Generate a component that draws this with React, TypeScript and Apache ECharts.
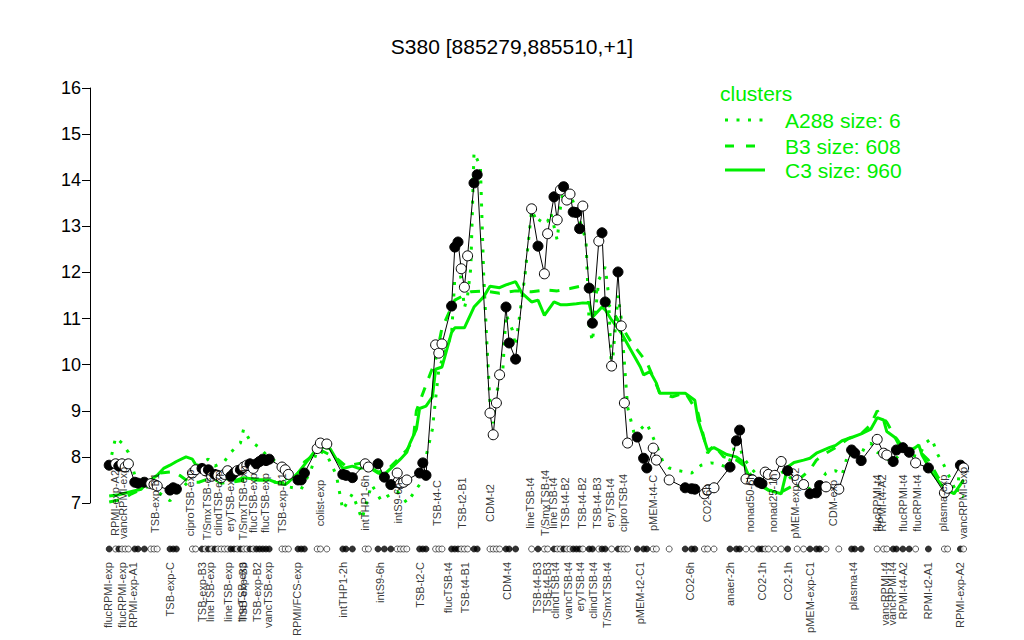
import React, { useEffect, useRef } from "react";
import * as echarts from "echarts";

const TITLE = "S380 [885279,885510,+1]";
const LEGEND_TITLE = "clusters";
const legendNames = ["A288 size: 6", "B3 size: 608", "C3 size: 960"];

// sample positions (index along the sample order), expression values, filled marker flag
const sampleX = [
  6, 8, 9, 10, 11, 12, 14, 15, 17, 19,
  20, 21, 25, 26, 27, 32, 33, 35, 36, 37,
  38, 39, 40, 41, 42, 43, 44, 45, 46, 47,
  48, 49, 50, 51, 52, 53, 54, 55, 56, 60,
  61, 62, 65, 66, 67, 71, 72, 74, 79, 80,
  82, 86, 87, 90, 92, 94, 96, 97, 98, 99,
  103, 104, 105, 108, 109, 110, 113, 114, 115, 116,
  117, 118, 120, 121, 125, 126, 127, 128, 130, 131,
  133, 138, 140, 142, 143, 145, 146, 147, 148, 149,
  150, 151, 152, 153, 154, 156, 157, 159, 160, 161,
  163, 165, 166, 167, 168, 171, 173, 174, 176, 177,
  181, 186, 188, 189, 192, 193, 195, 200, 202, 203,
  205, 207, 209, 210, 211, 212, 214, 216, 218, 221,
  223, 225, 227, 228, 230, 234, 238, 239, 241, 246,
  248, 249, 251, 252, 254, 256, 258, 262, 267, 268,
  272, 273,
];
const sampleY = [
  7.82, 7.85, 7.8, 7.85, 7.78, 7.85, 7.45, 7.43, 7.45, 7.42,
  7.4, 7.37, 7.28, 7.33, 7.3, 7.65, 7.72, 7.75, 7.7, 7.72,
  7.58, 7.62, 7.6, 7.55, 7.62, 7.7, 7.58, 7.65, 7.7, 7.72,
  7.78, 7.82, 7.85, 7.75, 7.85, 7.9, 7.95, 7.92, 7.95, 7.78,
  7.72, 7.62, 7.5, 7.5, 7.65, 8.18, 8.3, 8.28, 7.62, 7.6,
  7.55, 7.85, 7.78, 7.85, 7.56, 7.4, 7.65, 7.42, 7.45, 7.5,
  7.65, 7.87, 7.6, 10.43, 10.25, 10.45, 11.27, 12.55, 12.66, 12.08,
  11.68, 12.36, 13.94, 14.12, 8.95, 8.48, 9.17, 9.78, 11.25, 10.47,
  10.12, 13.38, 12.57, 11.97, 12.84, 13.64, 13.14, 13.79, 13.86, 13.57,
  13.7, 13.31, 13.3, 12.95, 13.44, 11.66, 10.9, 12.68, 12.86, 11.36,
  9.97, 12.01, 10.84, 9.17, 8.3, 8.43, 7.97, 7.76, 8.19, 7.93,
  7.5, 7.33, 7.31, 7.3, 7.2, 7.28, 7.33, 7.78, 8.35, 8.58,
  7.52, 7.5, 7.45, 7.42, 7.67, 7.62, 7.6, 7.9, 7.7, 7.5,
  7.4, 7.2, 7.22, 7.38, 7.35, 7.3, 8.15, 8.08, 7.92, 8.38,
  8.08, 8.04, 7.9, 8.15, 8.2, 8.1, 7.87, 7.76, 7.22, 7.32,
  7.82, 7.76,
];
const sampleFilled = [
  1, 0, 1, 0, 0, 0, 1, 1, 1, 0,
  0, 0, 1, 1, 1, 0, 0, 1, 0, 1,
  0, 1, 0, 0, 0, 0, 1, 1, 0, 1,
  0, 0, 1, 0, 1, 1, 1, 1, 1, 0,
  0, 0, 1, 1, 1, 0, 0, 0, 1, 1,
  1, 0, 0, 1, 1, 1, 0, 0, 0, 0,
  1, 1, 1, 0, 0, 0, 1, 1, 1, 0,
  0, 0, 1, 1, 0, 0, 0, 0, 1, 1,
  1, 0, 1, 0, 0, 1, 0, 0, 1, 0,
  0, 1, 1, 1, 0, 1, 1, 0, 1, 1,
  0, 1, 0, 0, 0, 1, 1, 1, 0, 0,
  0, 1, 1, 1, 0, 0, 0, 1, 1, 1,
  0, 0, 1, 1, 0, 0, 0, 0, 1, 0,
  0, 1, 1, 1, 0, 0, 1, 1, 1, 0,
  0, 0, 1, 1, 1, 1, 0, 1, 0, 0,
  1, 0,
];

// cluster mean profiles
const a288X = [
  6, 8, 10, 12, 14, 17, 19, 21, 25, 27, 32, 34, 37, 39, 42, 44, 47, 48, 50, 53,
  55, 58, 61, 62, 66, 69, 71, 74, 77, 79, 82, 85, 88, 91, 93, 96, 98, 99, 103, 105,
  107, 109, 111, 113, 114, 116, 117, 118, 119, 120, 122, 123, 124, 125, 126, 127, 129, 130, 132, 133,
  136, 138, 140, 141, 143, 144, 146, 147, 148, 150, 152, 155, 156, 157, 159, 161, 162, 163, 165, 166,
  168, 170, 172, 174, 177, 179, 181, 184, 188, 191, 194, 196, 199, 201, 202, 204, 207, 210, 214, 217,
  220, 222, 224, 227, 230, 233, 235, 237, 240, 242, 244, 246, 248, 250, 252, 254, 256, 259, 261, 263,
  265, 267, 269, 271, 272, 273,
];
const a288Y = [
  7.8, 8.42, 8.3, 8.1, 7.6, 7.5, 7.4, 7.25, 7.05, 7.2, 7.55, 7.85, 7.95, 7.8, 7.9, 8.1, 8.3, 8.6, 8.35, 8.2,
  8.05, 7.9, 7.65, 7.35, 7.3, 7.7, 8.15, 8.05, 7.6, 6.85, 7.2, 6.65, 7.4, 7.05, 7.15, 7.25, 7.1, 7.0, 7.4, 8.0,
  8.6, 9.9, 10.3, 10.65, 11.88, 11.9, 11.23, 11.5, 12.1, 14.6, 14.3, 12.0, 10.5, 9.17, 8.73, 9.38, 9.88, 11.1, 10.75, 10.4,
  11.98, 13.35, 13.07, 13.18, 13.1, 13.3, 12.7, 13.4, 13.8, 13.7, 13.36, 12.7, 10.86, 10.5, 11.84, 12.12, 11.55, 9.82, 11.5, 11.0,
  9.08, 8.52, 8.6, 8.73, 8.26, 7.9, 7.76, 7.7, 7.65, 7.82, 7.87, 7.85, 7.78, 8.1, 8.5, 8.0, 7.72, 7.5, 7.55, 7.7,
  7.45, 7.35, 7.3, 7.35, 7.65, 7.7, 7.6, 8.1, 7.9, 8.2, 8.3, 8.1, 8.05, 7.9, 7.97, 8.15, 8.05, 8.0, 8.3, 8.4,
  8.04, 7.8, 7.5, 7.2, 7.95, 7.8,
];
const b3X = [
  6, 10, 13, 18, 22, 26, 28, 31, 34, 38, 41, 44, 49, 54, 58, 62, 65, 67, 72, 77,
  80, 85, 90, 93, 96, 99, 101, 102, 105, 108, 110, 114, 119, 123, 128, 133, 138, 142, 146, 150,
  153, 157, 160, 163, 169, 174, 178, 182, 186, 190, 193, 195, 198, 202, 205, 208, 212, 216, 219, 222,
  225, 227, 230, 233, 237, 241, 244, 246, 249, 251, 254, 258, 262, 265, 269, 273,
];
const b3Y = [
  7.02, 7.08, 7.2, 7.35, 7.65, 7.68, 7.6, 7.45, 7.45, 7.55, 7.43, 7.45, 7.5, 7.5, 7.45, 7.43, 7.65, 7.89, 8.15, 7.97,
  7.8, 7.87, 7.67, 7.72, 7.93, 8.15, 8.37, 9.0, 9.56, 10.1, 10.8, 11.4, 11.58, 11.6, 11.55, 11.6, 11.58, 11.62, 11.6, 11.65,
  11.7, 11.6, 11.55, 11.2, 10.5, 10.05, 9.4, 9.3, 9.4, 8.95, 8.08, 8.26, 8.0, 7.93, 7.78, 7.43, 7.28, 7.24, 7.35, 7.54,
  7.72, 7.93, 8.08, 8.2, 8.4, 8.5, 8.7, 9.0, 8.75, 8.5, 8.1, 8.2, 7.93, 7.56, 7.24, 7.13,
];
const c3X = [
  6, 9, 13, 16, 18, 21, 23, 25, 27, 30, 32, 34, 36, 38, 41, 43, 46, 48, 51, 53,
  56, 58, 61, 62, 65, 68, 70, 72, 75, 77, 79, 82, 84, 87, 90, 92, 94, 97, 99, 100,
  102, 103, 105, 107, 108, 110, 113, 114, 117, 120, 123, 125, 128, 130, 133, 135, 138, 140, 142, 145,
  147, 149, 152, 154, 156, 157, 160, 161, 163, 166, 169, 172, 173, 175, 177, 178, 183, 186, 189, 190,
  193, 195, 199, 202, 204, 206, 209, 212, 216, 218, 220, 223, 225, 227, 231, 233, 235, 238, 241, 244,
  246, 248, 249, 252, 254, 256, 259, 260, 263, 266, 268, 270, 273,
];
const c3Y = [
  7.15, 7.18, 7.25, 7.3, 7.45, 7.6, 7.75, 7.82, 7.9, 8.0, 7.95, 7.72, 7.7, 7.6, 7.55, 7.52, 7.5, 7.55, 7.52, 7.5,
  7.5, 7.45, 7.4, 7.45, 7.65, 7.92, 8.1, 8.22, 8.18, 7.95, 7.75, 7.8, 7.75, 7.78, 7.65, 7.62, 7.75, 7.95, 8.1, 8.3,
  8.6, 9.05, 9.1, 9.3, 9.9, 9.95, 10.7, 10.8, 10.8, 11.25, 11.47, 11.7, 11.67, 11.73, 11.8, 11.55, 11.36, 11.4, 11.07, 11.36,
  11.3, 11.3, 11.32, 11.34, 11.33, 11.03, 11.25, 11.19, 10.97, 10.69, 10.32, 9.95, 9.78, 9.85, 9.6, 9.38, 9.38, 9.38, 9.23, 8.8,
  8.15, 8.2, 8.05, 8.0, 7.9, 7.57, 7.45, 7.28, 7.2, 7.78, 7.88, 7.93, 7.97, 8.08, 8.2, 8.25, 8.35, 8.42, 8.5, 8.6,
  8.85, 8.8, 8.55, 8.4, 8.2, 8.1, 8.26, 8.04, 7.67, 7.4, 7.28, 7.2, 7.5,
];

// sample names written inside the plot (centred on y = 7)
const plotLabelX = [
  7.8, 10.3, 20.3, 31.3, 36.6, 40, 43.8, 47.8, 50.9, 54.7,
  60, 71.9, 85.9, 96.3, 108.4, 116.3, 125, 137.5, 142.2, 144.7,
  148.4, 153.8, 158.4, 162.5, 166.6, 175.9, 192.8, 206.3, 213.4, 220.3,
  232.2, 245.9, 247.5, 254, 258.4, 266.6, 272.8,
];
const plotLabelText = [
  "RPMI-exp-A2", "vancRPMI-exp", "TSB-exp-B1", "ciproTSB-exp", "T/SmxTSB-exp", "clindTSB-exp", "eryTSB-exp", "T/SmxTSB-exp", "flucTSB-exp", "flucTSB-exp",
  "TSB-exp-B1", "colist-exp", "intTHP1-6h", "intS9-6h", "TSB-t4-C", "TSB-t2-B1", "CDM-t2", "lineTSB-t4", "T/SmxTSB-t4", "lineTSB-t4",
  "TSB-t4-B2", "TSB-t4-B2", "TSB-t4-B3", "eryTSB-t4", "ciproTSB-t4", "pMEM-t4-C", "CO2-6h", "nonad50-6h", "nonad25-1h", "pMEM-exp-C2",
  "CDM-exp", "flucRPMI-t4", "RPMI-t4-A2", "flucRPMI-t4", "flucRPMI-t4", "plasma-exp", "vancRPMI-exp",
];
// sample names written under the marker strip
const axisLabelX = [
  5.6, 10, 13.4, 25, 35, 37.5, 43.1, 47.5, 47.8, 52.2,
  55.6, 64.7, 79, 90.6, 103.1, 111.9, 117.2, 130.3, 139.7, 142.8,
  145.3, 149.4, 153.1, 157.2, 161.6, 171.9, 187.5, 200, 210, 218.1,
  225, 238.4, 248.4, 250.6, 254, 261.9, 271.9,
];
const axisLabelText = [
  "flucRPMI-exp", "flucRPMI-exp", "RPMI-exp-A1", "TSB-exp-C", "TSB-exp-B3", "lineTSB-exp", "lineTSB-exp", "lineTSB-exp", "TSB-exp-B3", "TSB-exp-B2",
  "vancTSB-exp", "RPMI/FCS-exp", "intTHP1-2h", "intS9-6h", "TSB-t2-C", "flucTSB-t4", "TSB-t4-B1", "CDM-t4", "TSB-t4-B3", "TSB-t4-B3",
  "clindTSB-t4", "vancTSB-t4", "eryTSB-t4", "clindTSB-t4", "T/SmxTSB-t4", "pMEM-t2-C1", "CO2-6h", "anaer-2h", "CO2-1h", "CO2-1h",
  "pMEM-exp-C1", "plasma-t4", "vancRPMI-t4", "vancRPMI-t4", "RPMI-t4-A2", "RPMI-t2-A1", "RPMI-exp-A2",
];

const GREEN = "#00ee00";
const FONT = "'Liberation Sans', Arial, Helvetica, sans-serif";

function zip(xs: number[], ys: number[]) {
  return xs.map((x, i) => [x, ys[i]]);
}

export default function App() {
  const ref = useRef<HTMLDivElement>(null);
  useEffect(() => {
    document.body.style.margin = "0";
    const chart = echarts.init(ref.current!, undefined, { renderer: "svg" });

    const markers = sampleX.map((x, i) => ({
      value: [x, sampleY[i]],
      itemStyle: { color: sampleFilled[i] ? "#000" : "#fff", borderColor: "#000", borderWidth: 1 },
    }));
    const strip = sampleX.map((x, i) => ({
      value: [x, 9],
      itemStyle: { color: sampleFilled[i] ? "#000" : "#fff", borderColor: "#000", borderWidth: 0.8 },
    }));

    const legendRowsY = [120, 146, 170];
    const legendDash: (number[] | null)[] = [[3, 8.5], [9, 12], null];

    const graphic: any[] = [
      {
        type: "text",
        x: 720,
        y: 93,
        style: { text: LEGEND_TITLE, fill: GREEN, font: `21px ${FONT}`, textVerticalAlign: "middle" },
      },
    ];
    legendNames.forEach((name, i) => {
      graphic.push({
        type: "line",
        shape: { x1: 725, y1: legendRowsY[i], x2: 765, y2: legendRowsY[i] },
        style: { stroke: GREEN, lineWidth: 3, lineDash: legendDash[i] || undefined },
      });
      graphic.push({
        type: "text",
        x: 785,
        y: legendRowsY[i],
        style: { text: name, fill: GREEN, font: `21px ${FONT}`, textVerticalAlign: "middle" },
      });
    });

    const option: any = {
      animation: false,
      title: {
        text: TITLE,
        left: "center",
        top: 36,
        padding: 0,
        textStyle: { fontSize: 21, fontWeight: "normal", fontFamily: FONT, color: "#000" },
      },
      grid: [
        { left: 90, width: 896, top: 88, height: 415 },
        { left: 90, width: 896, top: 540, height: 100 },
      ],
      xAxis: [
        { gridIndex: 0, type: "value", min: 0, max: 280, show: false },
        { gridIndex: 1, type: "value", min: 0, max: 280, show: false },
      ],
      yAxis: [
        {
          gridIndex: 0,
          type: "value",
          min: 7,
          max: 16,
          interval: 1,
          axisLine: { show: true, lineStyle: { color: "#000", width: 1 } },
          axisTick: { show: true, length: 8, lineStyle: { color: "#000", width: 1 } },
          axisLabel: { fontSize: 18, color: "#000", fontFamily: FONT, margin: 9 },
          splitLine: { show: false },
        },
        { gridIndex: 1, type: "value", min: 0, max: 100, inverse: true, show: false },
      ],
      graphic,
      series: [
        {
          name: legendNames[0],
          type: "line",
          data: zip(a288X, a288Y),
          symbol: "none",
          clip: false,
          lineStyle: { color: GREEN, width: 3, type: [3, 8.5], cap: "butt" },
          z: 2,
        },
        {
          name: legendNames[1],
          type: "line",
          data: zip(b3X, b3Y),
          symbol: "none",
          clip: false,
          lineStyle: { color: GREEN, width: 3, type: [10, 10], cap: "butt" },
          z: 2,
        },
        {
          name: legendNames[2],
          type: "line",
          data: zip(c3X, c3Y),
          symbol: "none",
          clip: false,
          lineStyle: { color: GREEN, width: 3 },
          z: 2,
        },
        {
          name: "samples",
          type: "line",
          data: markers,
          symbol: "circle",
          symbolSize: 10,
          showAllSymbol: true,
          clip: false,
          lineStyle: { color: "#000", width: 1 },
          z: 3,
        },
        {
          name: "strip",
          type: "scatter",
          xAxisIndex: 1,
          yAxisIndex: 1,
          data: strip,
          symbol: "circle",
          symbolSize: 6,
          z: 3,
        },
        {
          name: "plotLabels",
          type: "scatter",
          xAxisIndex: 0,
          yAxisIndex: 0,
          clip: false,
          silent: true,
          symbolSize: 1,
          itemStyle: { color: "rgba(0,0,0,0)" },
          data: plotLabelX.map((x, i) => ({ value: [x, 7], name: plotLabelText[i] })),
          label: {
            show: true,
            formatter: "{b}",
            position: "inside",
            rotate: 90,
            align: "center",
            verticalAlign: "middle",
            fontSize: 11,
            fontFamily: FONT,
            color: "#000",
          },
          z: 4,
        },
        {
          name: "axisLabels",
          type: "scatter",
          xAxisIndex: 1,
          yAxisIndex: 1,
          clip: false,
          silent: true,
          symbolSize: 1,
          itemStyle: { color: "rgba(0,0,0,0)" },
          data: axisLabelX.map((x, i) => ({ value: [x, 22], name: axisLabelText[i] })),
          label: {
            show: true,
            formatter: "{b}",
            position: "inside",
            rotate: 90,
            align: "right",
            verticalAlign: "middle",
            fontSize: 11,
            fontFamily: FONT,
            color: "#000",
          },
          z: 4,
        },
      ],
    };
    chart.setOption(option);
    return () => chart.dispose();
  }, []);
  return <div ref={ref} style={{ width: 1024, height: 640 }} />;
}
